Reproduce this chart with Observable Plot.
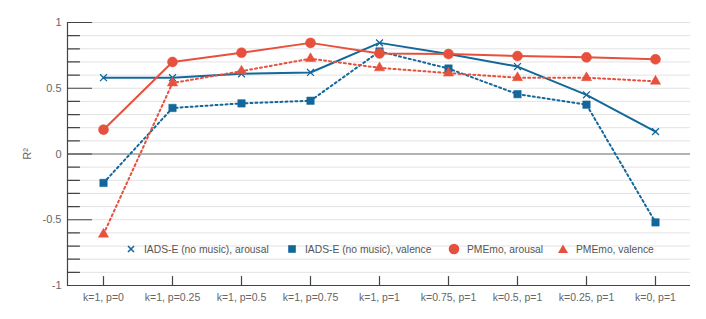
<!DOCTYPE html>
<html>
<head>
<meta charset="utf-8">
<script src="https://cdn.jsdelivr.net/npm/d3@7"></script>
<script src="https://cdn.jsdelivr.net/npm/@observablehq/plot@0.6"></script>
<style>
  html, body { margin: 0; padding: 0; background: #fff; }
  #wrap { position: relative; width: 706px; height: 319px; font-family: "Liberation Sans", Arial, sans-serif; }
  #legend { position: absolute; top: 243px; left: 0; width: 706px; height: 14px; font-size: 10.3px; color: #555; white-space: nowrap; }
  #legend .item { position: absolute; top: 0; display: flex; align-items: center; height: 12px; }
  #legend svg { margin-right: 7px; overflow: visible; }
</style>
</head>
<body>
<div id="wrap"></div>
<script>
const categories = ["k=1, p=0", "k=1, p=0.25", "k=1, p=0.5", "k=1, p=0.75", "k=1, p=1", "k=0.75, p=1", "k=0.5, p=1", "k=0.25, p=1", "k=0, p=1"];
const iadsArousal  = [0.58, 0.58, 0.61, 0.62, 0.845, 0.76, 0.665, 0.45, 0.17];
const iadsValence  = [-0.22, 0.35, 0.385, 0.405, 0.78, 0.65, 0.455, 0.375, -0.52];
const pmemoArousal = [0.185, 0.70, 0.77, 0.845, 0.765, 0.76, 0.745, 0.735, 0.72];
const pmemoValence = [-0.61, 0.54, 0.63, 0.725, 0.655, 0.615, 0.58, 0.58, 0.553];
const seriesNames = ["IADS-E (no music), arousal", "IADS-E (no music), valence", "PMEmo, arousal", "PMEmo, valence"];
const yTickLabels = [-1, -0.5, 0, 0.5, 1];

const BLUE = "#13679b", RED = "#e6503c";
const styles = [
  {color: BLUE, dash: null, symbol: "times", r: 3.2, filled: false},
  {color: BLUE, dash: "2,3", symbol: "square", r: 4.2, filled: true},
  {color: RED, dash: null, symbol: "circle", r: 5, filled: true},
  {color: RED, dash: "2,3", symbol: "triangle", r: 3.8, filled: true}
];
const allValues = [iadsArousal, iadsValence, pmemoArousal, pmemoValence];
const rows = allValues.flatMap((vals, s) => vals.map((v, i) => ({series: seriesNames[s], s, cat: categories[i], value: v})));

const minor = d3.range(-10, 11).map(i => i / 10);
const grid = minor.filter(v => v !== 0 && v !== -1);
const tickShape = {draw(ctx, l) { ctx.moveTo(0, 0); ctx.lineTo(0, -l); }};

const marks = [
  Plot.ruleY(grid, {stroke: "#e3e3e3", strokeWidth: 1}),
  Plot.ruleY([0], {stroke: "#666", strokeWidth: 1.2}),
  Plot.ruleY([-1], {stroke: "#444", strokeWidth: 1.2}),
  Plot.frame({anchor: "left", stroke: "#444", strokeWidth: 1.2}),
  Plot.vector(minor, {y: d => d, frameAnchor: "left", length: d => (Math.abs(d * 2 - Math.round(d * 2)) < 1e-9 ? 10 : 5), rotate: 90, anchor: "start", shape: tickShape, stroke: "#444", strokeWidth: 1.2}),
  Plot.vector(categories, {x: d => d, frameAnchor: "bottom", length: 9, rotate: 0, anchor: "start", shape: tickShape, stroke: "#444", strokeWidth: 1.2}),
  Plot.axisY({ticks: yTickLabels, tickSize: 0, tickPadding: 6, tickFormat: d => String(d), fontSize: 11, color: "#666", label: "R²", labelAnchor: "center", labelOffset: 44, labelArrow: "none"}),
  Plot.axisX({tickSize: 0, tickPadding: 8, fontSize: 10.5, color: "#666", label: null})
];
styles.forEach((st, s) => {
  const d = rows.filter(r => r.s === s);
  marks.push(Plot.line(d, {x: "cat", y: "value", stroke: st.color, strokeWidth: 2, strokeDasharray: st.dash}));
});
styles.forEach((st, s) => {
  const d = rows.filter(r => r.s === s);
  marks.push(Plot.dot(d, {x: "cat", y: "value", symbol: st.symbol, r: st.r,
    fill: st.filled ? st.color : "none", stroke: st.color, strokeWidth: st.filled ? 0.5 : 1.3}));
});

const chart = Plot.plot({
  width: 706, height: 319,
  marginLeft: 67, marginRight: 16, marginTop: 22, marginBottom: 34,
  style: {fontFamily: "'Liberation Sans', Arial, sans-serif", background: "#fff"},
  x: {type: "point", domain: categories, padding: 0.5},
  y: {domain: [-1, 1]},
  marks
});
const wrap = document.getElementById("wrap");
wrap.appendChild(chart);

// legend overlay
const legend = document.createElement("div");
legend.id = "legend";
const sym = {
  times: `<path d="M-3,-3L3,3M3,-3L-3,3" stroke="${BLUE}" stroke-width="1.6" fill="none"/>`,
  square: `<rect x="-3.8" y="-3.8" width="7.6" height="7.6" fill="${BLUE}"/>`,
  circle: `<circle r="5.3" fill="${RED}"/>`,
  triangle: `<path d="M0,-4.6L5,4L-5,4Z" fill="${RED}"/>`
};
const legendLeft = [125, 286, 448, 557];
styles.forEach((st, s) => {
  const item = document.createElement("div");
  item.className = "item";
  item.style.left = legendLeft[s] + "px";
  item.innerHTML = `<svg width="12" height="12" viewBox="-6 -6 12 12">${sym[st.symbol]}</svg><span>${seriesNames[s]}</span>`;
  legend.appendChild(item);
});
wrap.appendChild(legend);
</script>
</body>
</html>
